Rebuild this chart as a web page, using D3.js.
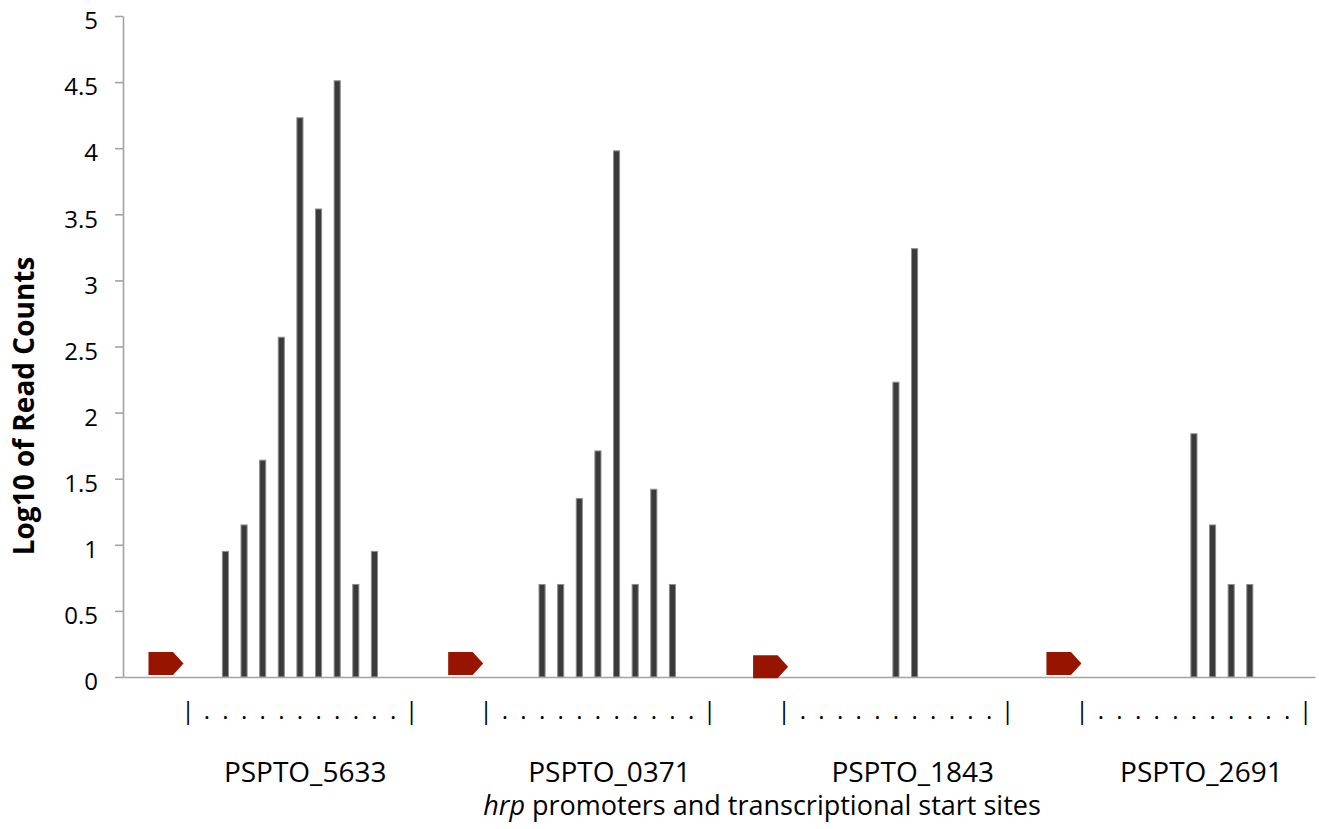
<!DOCTYPE html>
<html>
<head>
<meta charset="utf-8">
<script src="https://cdn.jsdelivr.net/npm/d3@7"></script>
<style>
  body { margin: 0; background: #fff; }
  svg text { font-family: "Open Sans", sans-serif; fill: #000; }
</style>
</head>
<body>
<div id="chart"></div>
<script>
// gene names under each promoter block, and the position they are centred on
var genes = ["PSPTO_5633", "PSPTO_0371", "PSPTO_1843", "PSPTO_2691"];
var geneSite = [9.28, 25.62, 41.9, 57.4];

// log10 read counts per position (16 positions per promoter, null = no reads)
var reads_5633 = [null, null, null, null, null, 0.95, 1.15, 1.64, 2.57, 4.23, 3.54, 4.51, 0.70, 0.95, null, null];
var reads_0371 = [null, null, null, null, null, null, 0.70, 0.70, 1.35, 1.71, 3.98, 0.70, 1.42, 0.70, null, null];
var reads_1843 = [null, null, null, null, null, null, null, null, null, 2.23, 3.24, null, null, null, null, null];
var reads_2691 = [null, null, null, null, null, null, null, null, null, 1.84, 1.15, 0.70, 0.70, null, null, null];

// category labels of one block (the ruler under the sites)
var siteLabels = ["", "", "", "|", ".", ".", ".", ".", ".", ".", ".", ".", ".", ".", ".", "|"];

// promoter arrows: site (in positions) and base level
var promoterSite = [1.81, 17.9, 34.27, 50.02];
var promoterBase = [0.015, 0.015, -0.01, 0.015];

var yTicks = [0, 0.5, 1, 1.5, 2, 2.5, 3, 3.5, 4, 4.5, 5];

(function(){
  var W = 1319, H = 829;
  var mLeft = 123, mRight = 1315, mTop = 16, mBottom = 677;

  var blocks = [reads_5633, reads_0371, reads_1843, reads_2691];
  var data = [];
  var labels = [];
  blocks.forEach(function(b, g){
    b.forEach(function(v, k){
      data.push({i: g * 16 + k, v: v});
      labels.push(siteLabels[k]);
    });
  });

  var svg = d3.select("#chart").append("svg")
      .attr("width", W)
      .attr("height", H);

  var x = d3.scaleBand()
      .domain(d3.range(data.length))
      .range([mLeft, mRight])
      .paddingInner(0.62)
      .paddingOuter(0.31);

  var y = d3.scaleLinear().domain([0, 5]).range([mBottom, mTop]);

  function cx(pos) { return x(0) + x.bandwidth() / 2 + pos * x.step(); }

  // y axis
  var yAxis = svg.append("g")
      .attr("transform", "translate(" + mLeft + ",0)")
      .call(d3.axisLeft(y).tickValues(yTicks).tickSize(8).tickSizeOuter(0).tickPadding(17)
        .tickFormat(function(d){ return String(d); }));
  yAxis.selectAll("path, line").attr("stroke", "#a3a3a3").attr("stroke-width", 1.6);
  yAxis.selectAll("text")
      .attr("dy", "0.53em")
      .style("font-size", "24px")
      .style("font-family", "'Open Sans', sans-serif")
      .attr("fill", "#000");

  // bars
  svg.append("g").selectAll("rect")
      .data(data.filter(function(d){ return d.v != null; }))
    .enter().append("rect")
      .attr("x", function(d){ return x(d.i) + 0.5; })
      .attr("width", x.bandwidth() - 1)
      .attr("y", function(d){ return y(d.v); })
      .attr("height", function(d){ return y(0) - y(d.v); })
      .attr("fill", "#3a3a3a")
      .attr("stroke", "#8c8c8c")
      .attr("stroke-width", 1);

  // x axis with ruler labels
  var xAxis = svg.append("g")
      .attr("transform", "translate(0," + mBottom + ")")
      .call(d3.axisBottom(x).tickSize(0).tickSizeOuter(0)
        .tickFormat(function(i){ return labels[i]; }));
  xAxis.select(".domain").attr("stroke", "#a3a3a3").attr("stroke-width", 1.6);
  xAxis.selectAll("text")
      .attr("y", 41.5)
      .attr("dy", null)
      .style("font-size", "24px")
      .style("font-family", "'Open Sans', sans-serif")
      .attr("fill", "#000");

  // promoter arrows
  var aw = 35, ah = 23, tip = 10.5;
  svg.append("g").selectAll("path")
      .data(promoterSite)
    .enter().append("path")
      .attr("d", function(s, g){
        var x0 = cx(s) - aw / 2, yb = y(promoterBase[g]);
        return "M" + x0 + "," + yb +
          "L" + x0 + "," + (yb - ah) +
          "L" + (x0 + aw - tip) + "," + (yb - ah) +
          "L" + (x0 + aw) + "," + (yb - ah / 2) +
          "L" + (x0 + aw - tip) + "," + yb + "Z";
      })
      .attr("fill", "#961400");

  // gene names
  svg.append("g").selectAll("text")
      .data(genes)
    .enter().append("text")
      .attr("x", function(d, g){ return cx(geneSite[g]); })
      .attr("y", 782)
      .attr("text-anchor", "middle")
      .style("font-size", "28px")
      .text(function(d){ return d; });

  // axis titles
  svg.append("text")
      .attr("transform", "translate(34,406) rotate(-90)")
      .attr("text-anchor", "middle")
      .style("font-size", "28px")
      .style("font-weight", "bold")
      .text("Log10 of Read Counts");

  var xt = svg.append("text")
      .attr("x", 762)
      .attr("y", 815)
      .attr("text-anchor", "middle")
      .style("font-size", "27px");
  xt.append("tspan").style("font-style", "italic").text("hrp");
  xt.append("tspan").text(" promoters and transcriptional start sites");
})();
</script>
</body>
</html>
